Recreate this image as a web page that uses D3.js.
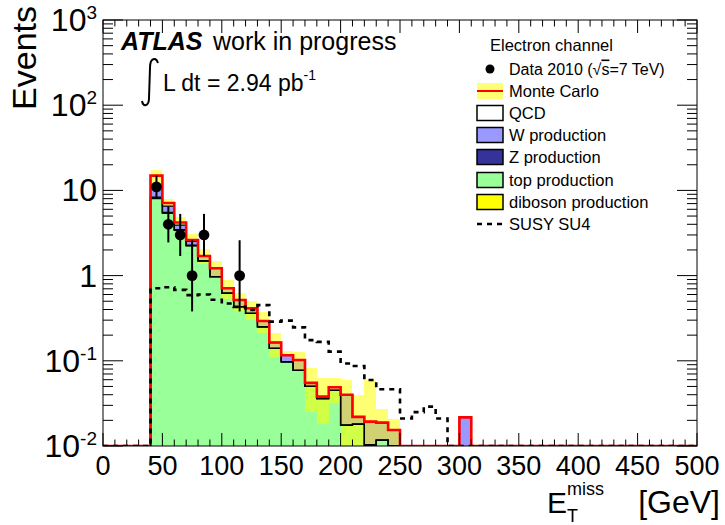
<!DOCTYPE html>
<html><head><meta charset="utf-8">
<script src="https://cdn.jsdelivr.net/npm/d3@7"></script>
<style>body{margin:0;background:#fff} svg{display:block} text{font-family:"Liberation Sans",Arial,Helvetica,sans-serif;fill:#000}</style>
</head><body><svg id="c" width="725" height="525"></svg>
<script>
// ---- data (bins are 10 GeV wide, low edges) ----
const binLows  = [40,50,60,70,80,90,100,110,120,130,140,150,160,170,180,190,200,210,220,230,240,250,260,270,280,290,300];
const topProd  = [8.0,5.4,3.4,2.24,1.48,0.97,0.62,0.43,0.36,0.25,0.14,0.097,0.077,0.050,0.036,0.045,0.0176,0.018,0.005,0.0117,0.005,0,0,0,0,0,0];
const diboson  = [0.05,0.03,0.02,0.01,0.008,0.005,0.003,0.002,0.001,0.001,0,0,0,0,0,0,0,0,0,0,0,0,0,0,0,0,0];
const zProd    = [0.3,0.1,0.05,0.03,0,0,0,0,0,0,0,0,0,0,0,0,0,0,0.0054,0,0,0,0,0,0,0,0];
const wProd    = [2.3,1.0,0.45,0.25,0.21,0.245,0.087,0.085,0.052,0.042,0.024,0.0193,0.025,0.005,0.002,0.004,0.0224,0.004,0.0089,0.0071,0.0104,0,0,0,0,0,0.0217];
const qcd      = [4.25,0.57,0.28,0.09,0,0,0,0,0,0,0,0,0,0,0,0,0,0,0,0,0,0,0,0,0,0,0];
const bandLow  = [12.0,6.6,3.95,2.5,1.35,0.93,0.53,0.38,0.30,0.21,0.11,0.117,0.075,0.025,0.018,0.032,0.005,0.004,0.001,0.011,0.010,0,0,0,0,0,0.0217];
const bandHigh = [17.3,8.0,4.9,3.1,2.05,1.50,0.88,0.63,0.50,0.37,0.21,0.13,0.128,0.082,0.062,0.062,0.06,0.04,0.06,0.027,0.021,0,0,0,0,0,0.0217];
const susyBins = [40,50,60,70,80,90,100,110,120,130,140,150,160,170,180,190,200,210,220,230,240,250,260,270,280];
const susy     = [0.71,0.73,0.68,0.59,0.60,0.52,0.47,0.43,0.395,0.45,0.288,0.296,0.247,0.175,0.167,0.128,0.093,0.087,0.0595,0.0463,0.0463,0.021,0.025,0.029,0.021];
const dataX    = [45,55,65,75,85,115];
const dataY    = [11,4,3,1,3,1];
const dataLo   = [8.1,2.45,1.7,0.38,1.7,0.38];
const dataHi   = [14.9,6.5,5.3,2.6,5.3,2.6];
const xTicks   = [0,50,100,150,200,250,300,350,400,450,500];
const yDecades = [-2,-1,0,1,2,3];
const legendItems = ["QCD","W production","Z production","top production","diboson production"];
const colors = {top:"#99ff99", diboson:"#ffff00", z:"#333399", w:"#9999ff", qcd:"#ffffff"};

const svg = d3.select("#c");
const L=103, R=697, T=20, B=446;
const x = d3.scaleLinear().domain([0,500]).range([L,R]);
const y = d3.scaleLog().domain([0.01,1000]).range([B,T]);
const yc = v => y(Math.max(v,0.01));
const BW = 10;

const defs = svg.append("defs");
defs.append("clipPath").attr("id","plot").append("rect").attr("x",L).attr("y",T).attr("width",R-L).attr("height",B-T);
const plot = svg.append("g").attr("clip-path","url(#plot)");

// stack
const keys = ["top","diboson","z","w","qcd"];
const rows = binLows.map((b,i)=>({bin:b, top:topProd[i], diboson:diboson[i], z:zProd[i], w:wProd[i], qcd:qcd[i]}));
const stacked = d3.stack().keys(keys)(rows);

stacked.forEach(layer=>{
  plot.append("g").selectAll("rect").data(layer.filter(d=>d[1]>d[0] && d[1]>0.01)).join("rect")
    .attr("x",d=>x(d.data.bin)).attr("width",d=>x(d.data.bin+BW)-x(d.data.bin))
    .attr("y",d=>yc(d[1])).attr("height",d=>yc(d[0])-yc(d[1]))
    .attr("fill",colors[layer.key]).attr("shape-rendering","crispEdges");
});

// uncertainty band
plot.append("g").selectAll("rect").data(binLows.map((b,i)=>({b, lo:bandLow[i], hi:bandHigh[i]})).filter(d=>d.hi>d.lo))
  .join("rect")
  .attr("x",d=>x(d.b)).attr("width",d=>x(d.b+BW)-x(d.b))
  .attr("y",d=>yc(d.hi)).attr("height",d=>yc(d.lo)-yc(d.hi))
  .attr("fill","#ffff00").attr("fill-opacity",0.55).attr("shape-rendering","crispEdges");

// black outlines of stacked components
const stepLine = d3.line();
function steps(bins, vals){
  const pts=[[x(bins[0]),B]];
  bins.forEach((b,i)=>{pts.push([x(b),yc(vals[i])]);pts.push([x(b+BW),yc(vals[i])]);});
  pts.push([x(bins[bins.length-1]+BW),B]);
  return pts;
}
stacked.forEach(layer=>{
  if(layer.key==="qcd") return;
  const vals = layer.map(d=>d[1]);
  plot.append("path").attr("d",stepLine(steps(binLows.slice(0,21), vals.slice(0,21))))
    .attr("fill","none").attr("stroke","#000").attr("stroke-width",1.3);
});
plot.append("path").attr("d",stepLine(steps([300],[stacked[3][26][1]]))).attr("fill","none").attr("stroke","#000").attr("stroke-width",1.3);

// total MC (red) over full range
const fullBins = d3.range(0,500,BW);
const totalMap = new Map(stacked[stacked.length-1].map(d=>[d.data.bin,d[1]]));
plot.append("path").attr("d",stepLine(steps(fullBins, fullBins.map(b=>totalMap.get(b)||0))))
  .attr("fill","none").attr("stroke","#ff0000").attr("stroke-width",2.6);

// SUSY SU4 dashed
const susyMap = new Map(susyBins.map((b,i)=>[b,susy[i]]));
plot.append("path").attr("d",stepLine(steps(fullBins, fullBins.map(b=>susyMap.get(b)||0))))
  .attr("fill","none").attr("stroke","#000").attr("stroke-width",2.6).attr("stroke-dasharray","5,5");

// data points
const dg = svg.append("g");
dataX.forEach((v,i)=>{
  dg.append("line").attr("x1",x(v)).attr("x2",x(v)).attr("y1",yc(dataHi[i])).attr("y2",yc(dataLo[i]))
    .attr("stroke","#000").attr("stroke-width",2);
  dg.append("circle").attr("cx",x(v)).attr("cy",y(dataY[i])).attr("r",5.4).attr("fill","#000");
});

// frame and ticks
svg.append("rect").attr("x",L).attr("y",T).attr("width",R-L).attr("height",B-T).attr("fill","none").attr("stroke","#000").attr("stroke-width",1);
const tg = svg.append("g").attr("stroke","#000").attr("stroke-width",1);
d3.range(0,501,10).forEach(v=>{
  const len = v%50===0 ? 13 : 6.5;
  tg.append("line").attr("x1",x(v)).attr("x2",x(v)).attr("y1",B).attr("y2",B-len);
  tg.append("line").attr("x1",x(v)).attr("x2",x(v)).attr("y1",T).attr("y2",T+len);
});
yDecades.forEach(k=>{
  const v=Math.pow(10,k);
  tg.append("line").attr("x1",L).attr("x2",L+20).attr("y1",y(v)).attr("y2",y(v));
  tg.append("line").attr("x1",R).attr("x2",R-20).attr("y1",y(v)).attr("y2",y(v));
  if(k<3) d3.range(2,10).forEach(m=>{
    const vv=m*v;
    tg.append("line").attr("x1",L).attr("x2",L+10).attr("y1",y(vv)).attr("y2",y(vv));
    tg.append("line").attr("x1",R).attr("x2",R-10).attr("y1",y(vv)).attr("y2",y(vv));
  });
});

// tick labels
xTicks.forEach(v=>{
  svg.append("text").attr("x",x(v)).attr("y",475).attr("text-anchor","middle").attr("font-size",27).text(v);
});
yDecades.forEach(k=>{
  const t = svg.append("text").attr("x",97).attr("y",y(Math.pow(10,k))+11).attr("text-anchor","end").attr("font-size",32);
  if(k===0) t.text("1");
  else if(k===1) t.text("10");
  else { t.append("tspan").text("10"); t.append("tspan").attr("font-size",19).attr("dy",-12).text(String(k)); }
});

// axis titles
svg.append("text").attr("transform","translate(36,6) rotate(-90)").attr("text-anchor","end").attr("font-size",34).text("Events");
svg.append("text").attr("x",547).attr("y",513).attr("font-size",30).text("E");
svg.append("text").attr("x",567).attr("y",495).attr("font-size",18).text("miss");
svg.append("text").attr("x",567).attr("y",522).attr("font-size",18).text("T");
svg.append("text").attr("x",720).attr("y",513).attr("text-anchor","end").attr("font-size",32).text("[GeV]");

// ATLAS label
svg.append("text").attr("x",121).attr("y",50).attr("font-size",25).attr("font-weight","bold").attr("font-style","italic").text("ATLAS");
svg.append("text").attr("x",213).attr("y",50).attr("font-size",25).text("work in progress");
svg.append("path").attr("d","M158,63 Q156,57 152,60 Q150,62 150,68 L149,98 Q149,104 146,105 Q143,106 142,101")
  .attr("fill","none").attr("stroke","#000").attr("stroke-width",2);
const lt = svg.append("text").attr("x",163).attr("y",91).attr("font-size",23);
lt.append("tspan").text("L dt = 2.94 pb");
lt.append("tspan").attr("font-size",14).attr("dy",-11).text("-1");

// legend
const lg = svg.append("g");
lg.append("text").attr("x",490).attr("y",51).attr("font-size",16.5).text("Electron channel");
const rowY = [69,91,113,135,157,180,202,224];
lg.append("circle").attr("cx",490).attr("cy",rowY[0]).attr("r",4.5).attr("fill","#000");
const dt = lg.append("text").attr("x",509).attr("y",rowY[0]+5.5).attr("font-size",16);
dt.append("tspan").text("Data 2010 (√");
dt.append("tspan").attr("text-decoration","overline").text("s");
dt.append("tspan").text("=7 TeV)");
lg.append("rect").attr("x",477).attr("y",rowY[1]-8).attr("width",26).attr("height",16).attr("fill","#ffff00").attr("fill-opacity",0.55);
lg.append("line").attr("x1",477).attr("x2",503).attr("y1",rowY[1]).attr("y2",rowY[1]).attr("stroke","#ff0000").attr("stroke-width",2);
lg.append("text").attr("x",509).attr("y",rowY[1]+5.5).attr("font-size",16.5).text("Monte Carlo");
const legKeys=["qcd","w","z","top","diboson"];
legendItems.forEach((name,i)=>{
  const cy=rowY[i+2];
  lg.append("rect").attr("x",477).attr("y",cy-7.5).attr("width",26).attr("height",15).attr("fill",colors[legKeys[i]]).attr("stroke","#000").attr("stroke-width",1.5);
  lg.append("text").attr("x",509).attr("y",cy+5.5).attr("font-size",16.5).text(name);
});
lg.append("line").attr("x1",477).attr("x2",503).attr("y1",rowY[7]).attr("y2",rowY[7]).attr("stroke","#000").attr("stroke-width",2.5).attr("stroke-dasharray","5,5");
lg.append("text").attr("x",509).attr("y",rowY[7]+5.5).attr("font-size",16.5).text("SUSY SU4");
</script></body></html>
